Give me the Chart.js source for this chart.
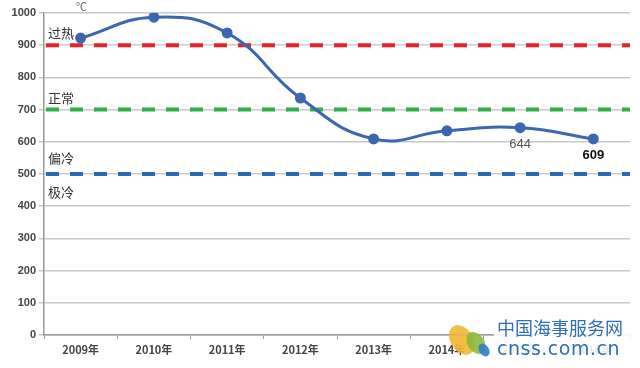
<!DOCTYPE html>
<html>
<head>
<meta charset="utf-8">
<script src="https://cdn.jsdelivr.net/npm/chart.js@4/dist/chart.umd.min.js"></script>
<style>
  html, body { margin: 0; padding: 0; background: #fff; }
  #wrap { position: relative; width: 640px; height: 368px; }
  #mark { position: absolute; left: 494px; top: 318px; width: 140px; height: 44px; padding-left: 3px;
          background: rgba(255,255,255,0.88); color: #2f6fb5; font-family: "Noto Sans CJK SC", sans-serif; line-height: 1; }
  #mark .cn { font-size: 18px; }
  #mark .en { font-size: 19px; font-family: "DejaVu Sans", sans-serif; margin-top: 3px; letter-spacing: 0.5px; }
</style>
</head>
<body>
<div id="wrap">
  <canvas id="chart" width="640" height="368"></canvas>
  <div id="mark"><div class="cn">中国海事服务网</div><div class="en">cnss.com.cn</div></div>
</div>
<script>
// chart data
const years = ['2009年', '2010年', '2011年', '2012年', '2013年', '2014年', '2015年', '2016年'];
const indexValues = [922, 987, 938, 736, 609, 634, 644, 609];
const labelled = [6, 7]; // points that show their value
const thresholds = [900, 700, 500];
const thresholdColors = ['#e8212b', '#2fae4a', '#2c6bb3'];
const zoneNames = ['过热', '正常', '偏冷', '极冷'];
const yTicks = [0, 100, 200, 300, 400, 500, 600, 700, 800, 900, 1000];

const font = '"Liberation Sans", Arial, sans-serif';
const cjk = '"Noto Sans CJK SC", sans-serif';

// dashed reference lines, zone labels and the two value labels
const extras = {
    id: 'extras',
    beforeDatasetsDraw(chart) {
        const { ctx, chartArea, scales } = chart;
        ctx.save();
        ctx.lineWidth = 4;
        ctx.setLineDash([13, 11]);
        thresholds.forEach((t, i) => {
            const y = scales.y.getPixelForValue(t);
            ctx.strokeStyle = thresholdColors[i];
            ctx.beginPath();
            ctx.moveTo(chartArea.left + 2, y);
            ctx.lineTo(chartArea.right, y);
            ctx.stroke();
        });
        ctx.restore();
    },
    afterDatasetsDraw(chart) {
        const { ctx, scales } = chart;
        ctx.save();
        ctx.fillStyle = '#333';
        ctx.font = '13px ' + cjk;
        ctx.textBaseline = 'middle';
        const x = 48;
        ctx.fillText(zoneNames[0], x, scales.y.getPixelForValue(thresholds[0]) - 12);
        ctx.fillText(zoneNames[1], x, scales.y.getPixelForValue(thresholds[1]) - 12);
        ctx.fillText(zoneNames[2], x, scales.y.getPixelForValue(thresholds[2]) - 16);
        ctx.fillText(zoneNames[3], x, scales.y.getPixelForValue(thresholds[2]) + 18);
        // unit mark at top
        ctx.fillStyle = '#666';
        ctx.font = '11px ' + cjk;
        ctx.fillText('℃', 76, 7);

        const meta = chart.getDatasetMeta(0);
        ctx.textAlign = 'center';
        labelled.forEach((idx, k) => {
            const p = meta.data[idx];
            ctx.fillStyle = k === 0 ? '#555' : '#111';
            ctx.font = (k === 0 ? '' : 'bold ') + '13px ' + font;
            ctx.fillText(String(indexValues[idx]), p.x, p.y + 17);
        });
        ctx.restore();
    },
    afterDraw(chart) {
        // watermark logo
        const { ctx } = chart;
        ctx.save();
        const blobs = [['#f2b632', 462, 340, 16], ['#8db83c', 476, 343, 12], ['#2e7fc6', 484, 350, 7]];
        blobs.forEach(([c, x, y, r]) => {
            ctx.fillStyle = c;
            ctx.globalAlpha = 0.9;
            ctx.beginPath();
            ctx.ellipse(x, y, r * 0.7, r, -0.6, 0, Math.PI * 2);
            ctx.fill();
        });
        ctx.restore();
    }
};

new Chart(document.getElementById('chart'), {
    type: 'line',
    data: {
        labels: years,
        datasets: [{
            data: indexValues,
            borderColor: '#3b66b1',
            backgroundColor: '#3b66b1',
            borderWidth: 3,
            pointRadius: 4,
            pointHoverRadius: 4,
            tension: 0.45
        }]
    },
    options: {
        responsive: false,
        animation: false,
        events: [],
        layout: { padding: { left: 0, right: 10, top: 13, bottom: 0 } },
        plugins: { legend: { display: false }, tooltip: { enabled: false } },
        scales: {
            x: {
                offset: true,
                grid: { display: true, drawOnChartArea: false, drawTicks: true, offset: true, tickLength: 4, color: '#999' },
                border: { color: '#9a9a9a', width: 1.5 },
                ticks: { color: '#444', font: { family: cjk, size: 11, weight: 'bold' }, padding: 4, maxRotation: 0 },
                afterFit(scale) { scale.height = 33; }
            },
            y: {
                min: 0,
                max: 1000,
                afterBuildTicks(scale) { scale.ticks = yTicks.map(v => ({ value: v })); },
                grid: { color: '#c8c8c8', lineWidth: 1.5, drawTicks: true, tickLength: 5 },
                border: { color: '#9a9a9a', width: 1.5 },
                ticks: { color: '#444', font: { family: font, size: 11, weight: 'bold' }, padding: 3, callback: v => String(v) },
                afterFit(scale) { scale.width = 44; }
            }
        }
    },
    plugins: [extras]
});
</script>
</body>
</html>
